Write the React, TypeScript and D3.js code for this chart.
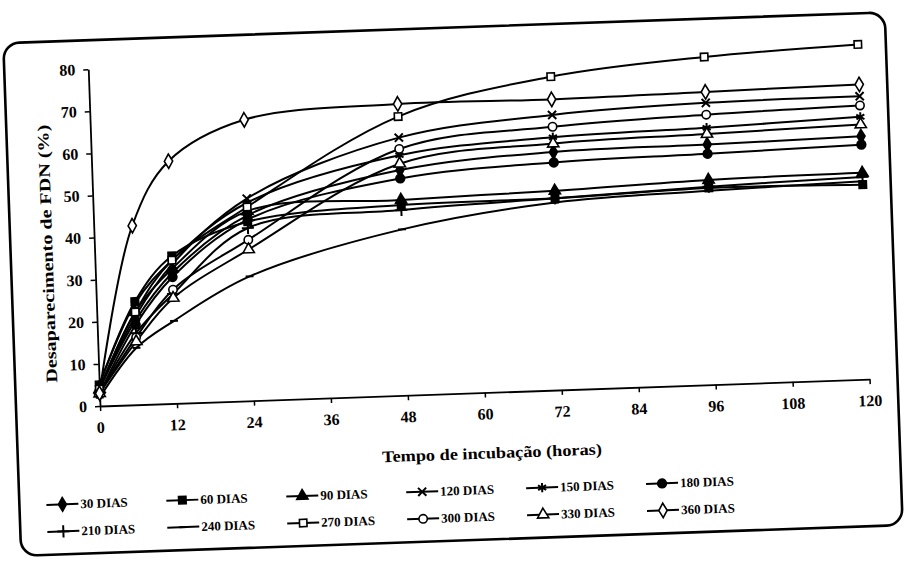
import React, { useEffect, useRef } from "react";
import * as d3 from "d3";

// incubation times (hours)
const hours = [0, 6, 12, 24, 48, 72, 96, 120];

// NDF disappearance (%) per regrowth age
const dias30 = [4, 20, 31, 44, 53.5, 56.5, 57, 57.7];
const dias60 = [5, 24.5, 35, 42.5, 45.2, 45.5, 46.7, 46.2];
const dias90 = [4, 22, 32, 45, 46.4, 47.3, 48.6, 49];
const dias120 = [4, 21, 33, 48, 61.2, 65.3, 66.9, 67.2];
const dias150 = [5, 24, 34, 47, 57, 60, 61, 62.3];
const dias180 = [3, 19, 30, 43, 51.5, 54, 54.8, 55.7];
const dias210 = [3, 17, 26, 41, 44, 45.5, 47, 48];
const dias240 = [2, 13.5, 19.6, 29.5, 39.4, 44.5, 46, 47];
const dias270 = [4, 22, 34, 46, 66.2, 74.4, 77.8, 79.5];
const dias300 = [3, 16, 27, 38.2, 58.5, 62.5, 64.1, 65];
const dias330 = [3, 15, 25, 35.9, 55, 58.5, 59.5, 60.5];
const dias360 = [3, 42.5, 57.5, 66.7, 69.2, 69, 69.5, 70];

const seriesNames = [
  "30 DIAS", "60 DIAS", "90 DIAS", "120 DIAS", "150 DIAS", "180 DIAS",
  "210 DIAS", "240 DIAS", "270 DIAS", "300 DIAS", "330 DIAS", "360 DIAS",
];
const seriesValues = [
  dias30, dias60, dias90, dias120, dias150, dias180,
  dias210, dias240, dias270, dias300, dias330, dias360,
];

const xTicks = [0, 12, 24, 36, 48, 60, 72, 84, 96, 108, 120];
const yTicks = [0, 10, 20, 30, 40, 50, 60, 70, 80];

const dash = {
  draw(context, size) {
    const r = Math.sqrt(size) / 1.6;
    context.moveTo(-r, 0);
    context.lineTo(r, 0);
  },
};

// marker per series: [symbol type, size, filled, stroke-only]
const markers = [
  [d3.symbolDiamond, 55, true],
  [d3.symbolSquare, 55, true],
  [d3.symbolTriangle, 55, true],
  [d3.symbolTimes || d3.symbolX, 45, false, true],
  [d3.symbolAsterisk, 60, false, true],
  [d3.symbolCircle, 60, true],
  [d3.symbolPlus, 50, false, true],
  [dash, 40, false, true],
  [d3.symbolSquare, 55, false],
  [d3.symbolCircle, 55, false],
  [d3.symbolTriangle, 55, false],
  [d3.symbolDiamond, 60, false],
];

export default function App() {
  const svgRef = useRef(null);
  const width = 905;
  const height = 562;

  useEffect(() => {
    const svg = d3.select(svgRef.current);
    svg.selectAll("*").remove();

    const x0 = 100;
    const y0 = 406;
    const x = d3.scaleLinear().domain([0, 120]).range([x0, 870]);
    const y = d3.scaleLinear().domain([0, 80]).range([y0, 69]);
    const font = "'Liberation Serif', 'Times New Roman', serif";

    // the scanned page sits a little tilted
    const g = svg.append("g").attr("transform", `rotate(-2, ${x0}, ${y0})`);

    g.append("rect")
      .attr("x", 16)
      .attr("y", 40)
      .attr("width", 882)
      .attr("height", 513)
      .attr("rx", 16)
      .attr("fill", "none")
      .attr("stroke", "#000")
      .attr("stroke-width", 2.6);

    const sym = (i) => {
      const [type, size] = markers[i];
      return d3.symbol().type(type).size(size)();
    };
    const styleMarker = (sel, i) => {
      const [, , filled, strokeOnly] = markers[i];
      sel
        .attr("fill", filled ? "#000" : strokeOnly ? "none" : "#fff")
        .attr("stroke", "#000")
        .attr("stroke-width", strokeOnly ? 2 : 1.6);
    };

    // axes
    g.append("g")
      .attr("transform", `translate(0,${y0})`)
      .call(d3.axisBottom(x).tickValues(xTicks).tickSize(5).tickSizeOuter(0).tickFormat(() => ""))
      .call((a) => a.select(".domain").attr("stroke-width", 1.8))
      .call((a) => a.selectAll("line").attr("stroke-width", 1.5));

    g.append("g")
      .attr("transform", `translate(${x0},0)`)
      .call(d3.axisLeft(y).tickValues(yTicks).tickSize(5).tickSizeOuter(0).tickFormat(() => ""))
      .call((a) => a.select(".domain").attr("stroke-width", 1.8))
      .call((a) => a.selectAll("line").attr("stroke-width", 1.5));

    g.append("g")
      .selectAll("text")
      .data(xTicks)
      .enter()
      .append("text")
      .attr("x", (d) => x(d))
      .attr("y", y0 + 27)
      .attr("text-anchor", "middle")
      .attr("font-family", font)
      .attr("font-weight", "bold")
      .attr("font-size", 16)
      .text((d) => d);

    g.append("g")
      .selectAll("text")
      .data(yTicks)
      .enter()
      .append("text")
      .attr("x", x0 - 13)
      .attr("y", (d) => y(d) + 5.5)
      .attr("text-anchor", "end")
      .attr("font-family", font)
      .attr("font-weight", "bold")
      .attr("font-size", 16)
      .text((d) => d);

    g.append("text")
      .attr("x", 490)
      .attr("y", 472)
      .attr("text-anchor", "middle")
      .attr("font-family", font)
      .attr("font-weight", "bold")
      .attr("font-size", 16)
      .attr("textLength", 220)
      .attr("lengthAdjust", "spacingAndGlyphs")
      .text("Tempo de incubação (horas)");

    g.append("text")
      .attr("transform", `translate(58,252) rotate(-90)`)
      .attr("text-anchor", "middle")
      .attr("font-family", font)
      .attr("font-weight", "bold")
      .attr("font-size", 16)
      .attr("textLength", 258)
      .attr("lengthAdjust", "spacingAndGlyphs")
      .text("Desaparecimento de FDN (%)");

    // curves
    const line = d3
      .line()
      .x((d, i) => x(hours[i]))
      .y((d) => y(d))
      .curve(d3.curveCatmullRom.alpha(0.5));

    seriesValues.forEach((vals, i) => {
      g.append("path")
        .attr("d", line(vals))
        .attr("fill", "none")
        .attr("stroke", "#000")
        .attr("stroke-width", 2);
    });

    seriesValues.forEach((vals, i) => {
      g.append("g")
        .selectAll("path")
        .data(vals)
        .enter()
        .append("path")
        .attr("transform", (d, j) => `translate(${x(hours[j])},${y(d)})`)
        .attr("d", sym(i))
        .call((s) => styleMarker(s, i));
    });

    // legend: two rows of six
    const legend = g.append("g");
    seriesNames.forEach((name, i) => {
      const col = i % 6;
      const row = Math.floor(i / 6);
      const lx = 43 + col * 120;
      const ly = 503 + row * 27;
      legend
        .append("line")
        .attr("x1", lx)
        .attr("x2", lx + 32)
        .attr("y1", ly)
        .attr("y2", ly)
        .attr("stroke", "#000")
        .attr("stroke-width", 2);
      legend
        .append("path")
        .attr("transform", `translate(${lx + 16},${ly})`)
        .attr("d", sym(i))
        .call((s) => styleMarker(s, i));
      legend
        .append("text")
        .attr("x", lx + 34)
        .attr("y", ly + 4.5)
        .attr("font-family", font)
        .attr("font-weight", "bold")
        .attr("font-size", 13)
        .text(name);
    });
  }, []);

  return (
    <svg
      ref={svgRef}
      width={width}
      height={height}
      style={{ position: "absolute", left: 0, top: 0, background: "#fff" }}
    ></svg>
  );
}
